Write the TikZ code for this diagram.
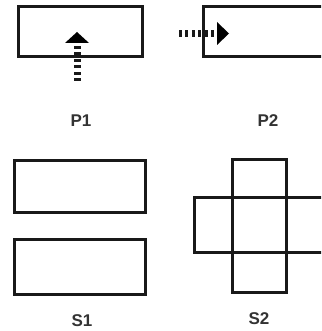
\documentclass[tikz,border=0pt]{standalone}
\usepackage{fontspec}
\setmainfont{Liberation Sans}
\begin{document}
\begin{tikzpicture}[x=1pt,y=-1pt,
  frame/.style={draw=black!90,line width=3pt},
  shaft/.style={draw=black!90,line width=7pt,dash pattern=on 3pt off 3.4pt},
  head/.style={fill=black,draw=none},
  lbl/.style={font=\fontsize{17}{17}\selectfont\bfseries,text=black!80,inner sep=0pt}]
\useasboundingbox (0,0) rectangle (321,331);
\clip (0,0) rectangle (321,331);
% P1: box with an arrow entering from below
\draw[frame] (18,7) rectangle (142,57);
\coordinate (p1tail) at (77,81);
\coordinate (p1base) at (77,43);
\draw[shaft] (p1tail) -- (p1base);
\fill[head] (65,43) -- (77,32) -- (89,43) -- cycle;
\node[lbl] (p1) at (81,121) {P1};
% P2: box with an arrow entering from the left
\draw[frame] (203,7) rectangle (340,57);
\coordinate (p2tail) at (179,33.5);
\coordinate (p2base) at (217,33.5);
\draw[shaft] (p2tail) -- (p2base);
\fill[head] (217,22) -- (229,33.5) -- (217,45) -- cycle;
\node[lbl] (p2) at (268,121) {P2};
% S1: two stacked boxes
\draw[frame] (14,160) rectangle (145,212);
\draw[frame] (14,239) rectangle (145,294);
\node[lbl] (s1) at (82,321) {S1};
% S2: crossing boxes
\draw[frame] (232,159) rectangle (286,292);
\draw[frame] (194,197) rectangle (340,252);
\node[lbl] (s2) at (259,319) {S2};
\end{tikzpicture}
\end{document}
